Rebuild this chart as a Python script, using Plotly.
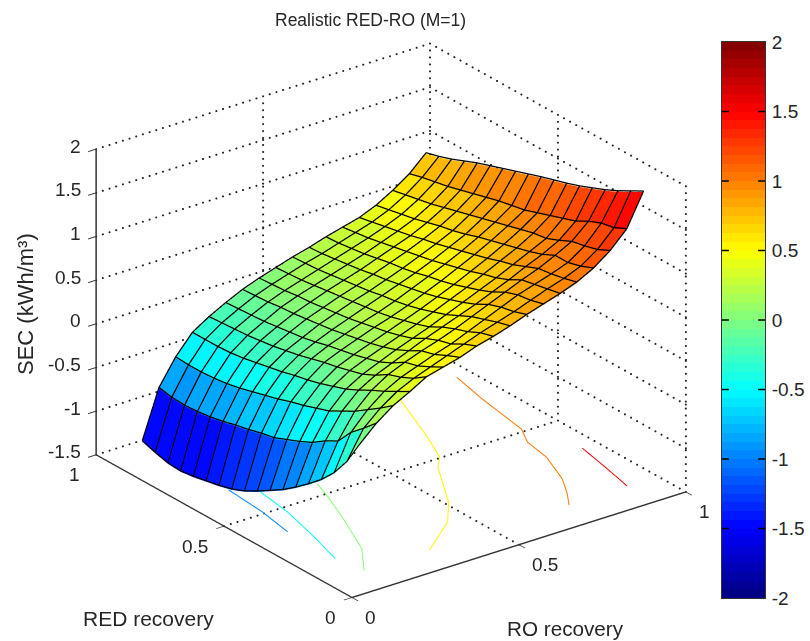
import plotly.graph_objects as go

ro = [0.10,0.15,0.20,0.25,0.30,0.35,0.40,0.45,0.50,0.55,0.60,0.65,0.70,0.75,0.80,0.85,0.90,0.95]
red = [0.10,0.15,0.20,0.25,0.30,0.35,0.40,0.45,0.50,0.55,0.60,0.65,0.70,0.75,0.80,0.85,0.90,0.95]
sec = [
 [-.04,.14,.28,.38,.49,.54,.59,.66,.71,.77,.84,.90,.96,1.03,1.13,1.27,1.46,1.83],
 [-.32,.00,.17,.30,.39,.46,.53,.60,.67,.73,.79,.86,.93,.99,1.07,1.20,1.39,1.75],
 [-.53,-.13,.07,.22,.32,.39,.46,.52,.60,.68,.76,.84,.90,.96,1.03,1.16,1.36,1.67],
 [-.69,-.31,-.03,.15,.27,.35,.42,.48,.55,.63,.71,.79,.87,.94,1.03,1.13,1.30,1.60],
 [-.82,-.39,-.11,.07,.18,.26,.34,.42,.49,.56,.63,.71,.79,.88,.96,1.06,1.22,1.54],
 [-.94,-.49,-.19,.00,.11,.19,.27,.34,.41,.49,.57,.65,.73,.82,.91,1.00,1.17,1.48],
 [-1.05,-.56,-.24,-.05,.07,.15,.22,.29,.36,.44,.52,.60,.69,.78,.87,.98,1.12,1.43],
 [-1.14,-.62,-.29,-.10,.03,.11,.18,.25,.32,.39,.47,.55,.64,.73,.83,.94,1.07,1.385],
 [-1.23,-.68,-.33,-.14,.00,.08,.15,.22,.28,.35,.43,.51,.60,.69,.79,.90,1.02,1.34],
 [-1.31,-.71,-.38,-.17,-.04,.05,.12,.19,.25,.32,.40,.48,.56,.65,.75,.86,.99,1.29],
 [-1.37,-.75,-.42,-.21,-.08,.01,.09,.16,.23,.30,.37,.44,.52,.61,.70,.82,.96,1.24],
 [-1.41,-.78,-.46,-.24,-.11,-.02,.07,.14,.21,.27,.34,.41,.49,.57,.66,.78,.92,1.19],
 [-1.44,-.82,-.50,-.27,-.14,-.04,.05,.12,.19,.25,.32,.39,.46,.54,.63,.74,.88,1.14],
 [-1.47,-.85,-.53,-.30,-.16,-.06,.03,.10,.17,.23,.29,.36,.43,.50,.59,.70,.84,1.09],
 [-1.49,-.87,-.55,-.32,-.18,-.08,.02,.09,.15,.21,.27,.33,.40,.47,.55,.66,.80,1.03],
 [-1.48,-.88,-.56,-.33,-.19,-.09,.00,.07,.13,.19,.25,.31,.37,.44,.52,.63,.77,.97],
 [-1.44,-.87,-.56,-.33,-.20,-.10,-.01,.06,.12,.18,.23,.29,.35,.41,.49,.60,.74,.92],
 [-1.39,-.84,-.55,-.33,-.21,-.11,-.02,.05,.11,.17,.22,.28,.33,.38,.46,.57,.70,.88],
]
# contour levels traced on the floor: (level, RO recovery, RED recovery)
contour_levels = [-1.0, -0.5, 0.0, 0.5, 1.0, 1.5]
contour_ro = [
 [.130,.119,.099],
 [.184,.167,.134,.098],
 [.320,.296,.250,.183,.112],
 [.768,.693,.646,.608,.509,.439,.309],
 [.952,.926,.898,.865,.850,.805,.763,.729],
 [.949,.929,.905],
]
contour_red = [
 [.652,.506,.381],
 [.598,.471,.327,.193],
 [.553,.480,.360,.200,.099],
 [.815,.612,.500,.458,.287,.199,.0995],
 [.833,.698,.509,.443,.349,.228,.154,.103],
 [.338,.227,.1055],
]
x_ticks = [0, 0.5, 1]
y_ticks = [0, 0.5, 1]
z_ticks = [-1.5, -1, -0.5, 0, 0.5, 1, 1.5, 2]
cbar_ticks = [-2, -1.5, -1, -0.5, 0, 0.5, 1, 1.5, 2]

FONT = "Liberation Sans"
TXT = "#262626"
ZMIN, ZMAX = -1.5, 2.0
N = 64

def clip01(v):
    return max(0.0, min(1.0, v))

def jet_t(t):
    r = clip01(min(4*t-1.5, -4*t+4.5))
    g = clip01(min(4*t-0.5, -4*t+3.5))
    b = clip01(min(4*t+0.5, -4*t+2.5))
    return f"rgb({int(r*255)},{int(g*255)},{int(b*255)})"

def jet_val(z):
    i = max(0, min(N-1, int((z+2)/4*N)))
    return jet_t((i+0.5)/N)

fig = go.Figure()

# surface as flat-coloured cells
nr, nc = len(red), len(ro)
vx, vy, vz = [], [], []
for r in range(nr):
    for c in range(nc):
        vx.append(ro[c]); vy.append(red[r]); vz.append(sec[r][c])
I, J, K, FC = [], [], [], []
for r in range(nr-1):
    for c in range(nc-1):
        a = r*nc+c; b = a+1; d = a+nc; e = d+1
        col = jet_val(sec[r][c])
        I += [a, a]; J += [b, e]; K += [e, d]; FC += [col, col]
fig.add_trace(go.Mesh3d(x=vx, y=vy, z=vz, i=I, j=J, k=K, facecolor=FC, flatshading=True,
                        lighting=dict(ambient=1, diffuse=0, specular=0, roughness=1, fresnel=0),
                        hoverinfo="skip", showscale=False))

# mesh lines, lifted a hair so the faces do not swallow them
LIFT = 0.012
mx, my, mz = [], [], []
for r in range(nr):
    for c in range(nc):
        mx.append(ro[c]); my.append(red[r]); mz.append(sec[r][c]+LIFT)
    mx.append(None); my.append(None); mz.append(None)
for c in range(nc):
    for r in range(nr):
        mx.append(ro[c]); my.append(red[r]); mz.append(sec[r][c]+LIFT)
    mx.append(None); my.append(None); mz.append(None)
fig.add_trace(go.Scatter3d(x=mx, y=my, z=mz, mode="lines", line=dict(color="#000000", width=2.5),
                           hoverinfo="skip", showlegend=False))

# floor contours
for lev, cx, cy in zip(contour_levels, contour_ro, contour_red):
    fig.add_trace(go.Scatter3d(x=cx, y=cy, z=[ZMIN+0.01]*len(cx), mode="lines",
                               line=dict(color=jet_val(lev), width=2),
                               hoverinfo="skip", showlegend=False))

# dotted grid and box, drawn as rows of small dots
gx, gy, gz = [], [], []
def seg(p, q, n):
    for i in range(n+1):
        f = i/n
        gx.append(p[0]+(q[0]-p[0])*f); gy.append(p[1]+(q[1]-p[1])*f); gz.append(p[2]+(q[2]-p[2])*f)
NX, NY, NZ = 50, 42, 44
for zt in z_ticks:
    seg((0, 1, zt), (1, 1, zt), NX); seg((1, 1, zt), (1, 0, zt), NY)
for xt in x_ticks[1:]:
    seg((xt, 1, ZMIN), (xt, 1, ZMAX), NZ); seg((xt, 0, ZMIN), (xt, 1, ZMIN), NY)
for yt in y_ticks[:-1]:
    seg((1, yt, ZMIN), (1, yt, ZMAX), NZ)
    if yt > 0:
        seg((0, yt, ZMIN), (1, yt, ZMIN), NX)
seg((0, 1, ZMIN), (1, 1, ZMIN), NX)
fig.add_trace(go.Scatter3d(x=gx, y=gy, z=gz, mode="markers",
                           marker=dict(color="#222222", size=1.2, line=dict(width=0)),
                           hoverinfo="skip", showlegend=False))

# colour bar drawn as a heat map column
levels = [[-2 + 4*(i+0.5)/N] for i in range(N)]
scale = []
for i in range(N):
    scale.append([i/N, jet_t((i+0.5)/N)])
    scale.append([(i+1)/N, jet_t((i+0.5)/N)])
fig.add_trace(go.Heatmap(z=levels, x=[0], y=[l[0] for l in levels], zmin=-2, zmax=2,
                         colorscale=scale, showscale=False, hoverinfo="skip",
                         xaxis="x", yaxis="y"))

annots = []
for t in z_ticks:
    annots.append(dict(x=0, y=1, z=t, text=f"{t:g}", showarrow=False, xanchor="right", yanchor="middle",
                       xshift=-13, yshift=3, font=dict(family=FONT, size=19, color=TXT)))
for t in x_ticks:
    annots.append(dict(x=t, y=0, z=ZMIN, text=f"{t:g}", showarrow=False, xanchor="left", yanchor="middle",
                       xshift=11, yshift=-20, font=dict(family=FONT, size=19, color=TXT)))
for t in y_ticks:
    annots.append(dict(x=0, y=t, z=ZMIN, text=f"{t:g}", showarrow=False, xanchor="right", yanchor="middle",
                       xshift=-14, yshift=-20, font=dict(family=FONT, size=19, color=TXT)))

axis3d = dict(showgrid=False, showbackground=False, zeroline=False, showticklabels=False,
              showspikes=False, title=dict(text=""), showline=True, linecolor="#333333", linewidth=3,
              ticks="outside", ticklen=10, tickcolor="#333333", tickwidth=2)

# colour-bar tick marks on both inner edges
cbar_shapes = []
for t in cbar_ticks[1:-1]:
    for x0, x1 in ((0, 0.16), (0.84, 1)):
        cbar_shapes.append(dict(type="line", xref="x domain", yref="y", x0=x0, x1=x1, y0=t, y1=t,
                                layer="above", line=dict(color="#000000", width=1.5)))

fig.update_layout(
    width=810, height=641, margin=dict(l=0, r=0, t=0, b=0, pad=0, autoexpand=False), autosize=False,
    paper_bgcolor="white", plot_bgcolor="white", showlegend=False,
    shapes=cbar_shapes,
    scene=dict(
        domain=dict(x=[0, 0.9654], y=[0, 1]),
        xaxis=dict(axis3d, range=[0, 1], tickvals=x_ticks),
        yaxis=dict(axis3d, range=[0, 1], tickvals=y_ticks),
        zaxis=dict(axis3d, range=[ZMIN, ZMAX], tickvals=z_ticks),
        aspectmode="manual", aspectratio=dict(x=1.304, y=1.327, z=1.051),
        camera=dict(projection=dict(type="orthographic"),
                    up=dict(x=0, y=0, z=1), center=dict(x=0, y=0, z=0),
                    eye=dict(x=-0.546*2, y=-0.725*2, z=0.42*2)),
        annotations=annots,
    ),
    xaxis=dict(domain=[722/810, 765/810], anchor="y", showticklabels=False, ticks="",
               showline=True, mirror=True, linecolor="#333333", showgrid=False, zeroline=False),
    yaxis=dict(domain=[1-598/641, 1-42/641], anchor="x", side="right", range=[-2, 2],
               tickvals=cbar_ticks, ticktext=[f"{t:g}" for t in cbar_ticks],
               ticks="", showline=True, mirror=True,
               linecolor="#333333", showgrid=False, zeroline=False, ticklabelstandoff=2,
               tickfont=dict(family=FONT, size=19, color=TXT)),
    annotations=[
        dict(text="Realistic RED-RO (M=1)", x=370/810, y=1-20/641, xref="paper", yref="paper",
             xanchor="center", yanchor="middle",
             showarrow=False, font=dict(family=FONT, size=17.5, color=TXT)),
        dict(text="SEC (kWh/m³)", x=25/810, y=1-304/641, xref="paper", yref="paper", textangle=-90,
             xanchor="center", yanchor="middle",
             showarrow=False, font=dict(family=FONT, size=22, color=TXT)),
        dict(text="RED recovery", x=148/810, y=1-618/641, xref="paper", yref="paper",
             xanchor="center", yanchor="middle",
             showarrow=False, font=dict(family=FONT, size=21, color=TXT)),
        dict(text="RO recovery", x=565/810, y=1-628/641, xref="paper", yref="paper",
             xanchor="center", yanchor="middle",
             showarrow=False, font=dict(family=FONT, size=20.7, color=TXT)),
    ],
)

fig.write_html("out.html", config=dict(displayModeBar=False),
               post_script="document.body.style.margin='0';")
